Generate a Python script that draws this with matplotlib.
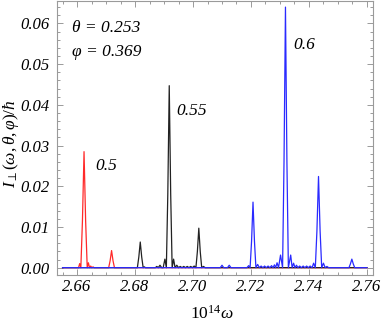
import matplotlib
matplotlib.use("Agg")
import matplotlib.pyplot as plt
from matplotlib.ticker import MultipleLocator

# ---- data ----
red_x = [2.655, 2.6605, 2.6609, 2.6613, 2.66185, 2.6624, 2.66295, 2.6635, 2.6639, 2.6643,
         2.6647, 2.6651, 2.6655, 2.6659, 2.6709, 2.6714, 2.6719, 2.6724, 2.6729, 2.760]
red_y = [0, 0, 0.0010, 0, 0.0115, 0.0285, 0.0115, 0, 0.0012, 0,
         0.0004, 0, 0.0002, 0, 0, 0.0017, 0.0042, 0.0017, 0, 0]

black_x = [2.655, 2.6808, 2.6813, 2.6818, 2.6823, 2.6828, 2.6832, 2.6836,
           2.6870, 2.6875, 2.6880, 2.6886, 2.6892, 2.6897, 2.6903, 2.6908,
           2.6913, 2.6918, 2.6923, 2.6928, 2.6933, 2.6938, 2.6944, 2.6950,
           2.6956, 2.6962, 2.6968, 2.6974, 2.6980, 2.6986, 2.6992, 2.6998,
           2.7004, 2.7010, 2.7015, 2.7020, 2.7025, 2.7030, 2.7036, 2.7042, 2.760]
black_y = [0, 0, 0.0026, 0.0063, 0.0026, 0, 0.0002, 0,
           0, 0.0003, 0, 0.0006, 0, 0, 0.0021, 0,
           0.018, 0.0447, 0.018, 0, 0.0021, 0, 0.0006, 0,
           0.0003, 0, 0.0003, 0, 0.0003, 0, 0.0003, 0,
           0.0004, 0, 0.0039, 0.0097, 0.0039, 0, 0.0003, 0, 0]

blue_x = [2.655, 2.7094, 2.7100, 2.7106, 2.7119, 2.7125, 2.7131,
          2.7186, 2.7192, 2.7197, 2.7202, 2.7207, 2.7212, 2.7217,
          2.7223, 2.7229, 2.7235, 2.7241, 2.7247, 2.7253, 2.7259, 2.7265,
          2.7271, 2.7276, 2.7281, 2.7285, 2.7290, 2.7295, 2.7302, 2.7309,
          2.7314, 2.7319, 2.7324, 2.7329, 2.7337, 2.7342, 2.7347, 2.7352,
          2.7357, 2.7362, 2.7368, 2.7374, 2.7380, 2.7386, 2.7392, 2.7398,
          2.7404, 2.7411, 2.7416, 2.7422, 2.74275, 2.7433, 2.74385, 2.7444,
          2.7450, 2.7456, 2.7462, 2.7468, 2.7538, 2.7543, 2.7548, 2.7553,
          2.7558, 2.760]
blue_y = [0, 0, 0.0006, 0, 0, 0.0006, 0,
          0, 0.0005, 0, 0.0065, 0.0161, 0.0065, 0,
          0.0008, 0, 0.0004, 0, 0.0004, 0, 0.0004, 0,
          0.0005, 0, 0.0007, 0, 0.0012, 0, 0.0031, 0,
          0.026, 0.0640, 0.026, 0, 0.0031, 0, 0.0011, 0,
          0.0006, 0, 0.0004, 0, 0.0004, 0, 0.0004, 0,
          0.0004, 0, 0.0011, 0, 0.0090, 0.0224, 0.0090, 0,
          0.0011, 0, 0.0003, 0, 0, 0.0009, 0.0021, 0.0009,
          0, 0]

x_ticks = [2.66, 2.68, 2.70, 2.72, 2.74, 2.76]
x_tick_labels = ["2.66", "2.68", "2.70", "2.72", "2.74", "2.76"]
y_ticks = [0.00, 0.01, 0.02, 0.03, 0.04, 0.05, 0.06]
y_tick_labels = ["0.00", "0.01", "0.02", "0.03", "0.04", "0.05", "0.06"]

serif = ["Liberation Serif", "DejaVu Serif"]
plt.rcParams["font.family"] = serif
plt.rcParams["mathtext.fontset"] = "custom"
plt.rcParams["mathtext.rm"] = "Liberation Serif"
plt.rcParams["mathtext.it"] = "Liberation Serif:italic"
plt.rcParams["mathtext.bf"] = "Liberation Serif:bold"
plt.rcParams["mathtext.fallback"] = "stix"

# ---- figure ----
W, H = 382, 327
fig = plt.figure(figsize=(W / 100, H / 100), dpi=100)
ax = fig.add_axes([56.5 / W, 1 - 275 / H, (373 - 56.5) / W, (275 - 1) / H])

ax.plot(red_x, red_y, color="#ff2a2a", lw=0.9)
ax.plot(black_x, black_y, color="#222222", lw=0.9)
ax.plot(blue_x, blue_y, color="#2a2aff", lw=0.9)

ax.set_xlim(2.6529, 2.7621)
ax.set_ylim(-0.0018, 0.0655)

ax.set_xticks(x_ticks)
ax.set_xticklabels(x_tick_labels, fontstyle="italic", fontsize=12)
ax.set_yticks(y_ticks)
ax.set_yticklabels(y_tick_labels, fontstyle="italic", fontsize=12)
ax.xaxis.set_minor_locator(MultipleLocator(0.005))
ax.yaxis.set_minor_locator(MultipleLocator(0.002))

frame_col = "#9a9a9a"
for s in ax.spines.values():
    s.set_color(frame_col)
    s.set_linewidth(0.8)
ax.tick_params(which="both", direction="in", top=True, right=True,
               color=frame_col, width=0.7)
ax.tick_params(which="major", length=4)
ax.tick_params(which="minor", length=2.2)
ax.tick_params(axis="x", which="major", pad=3)
ax.tick_params(axis="y", which="major", pad=5)


def fx(px):
    return px / W


def fy(py):
    return 1 - py / H


tkw = dict(fontsize=12.5, style="italic", va="center")
fig.text(fx(72), fy(28), "θ = 0.253", ha="left", **tkw)
fig.text(fx(72), fy(52), "φ = 0.369", ha="left", **tkw)
fig.text(fx(293), fy(45), "0.6", ha="left", **tkw)
fig.text(fx(176), fy(111), "0.55", ha="left", **tkw)
fig.text(fx(95), fy(166), "0.5", ha="left", **tkw)

fig.text(fx(11), fy(144), r"$I_{\perp}(\omega,\theta,\varphi)/\hbar$", rotation=90,
         ha="center", va="center", fontsize=12.5)
fig.text(fx(212), fy(314), r"$\mathit{10}^{\mathit{14}}\omega$", ha="center", va="center",
         fontsize=12.5)

fig.savefig("out.png", dpi=100)
